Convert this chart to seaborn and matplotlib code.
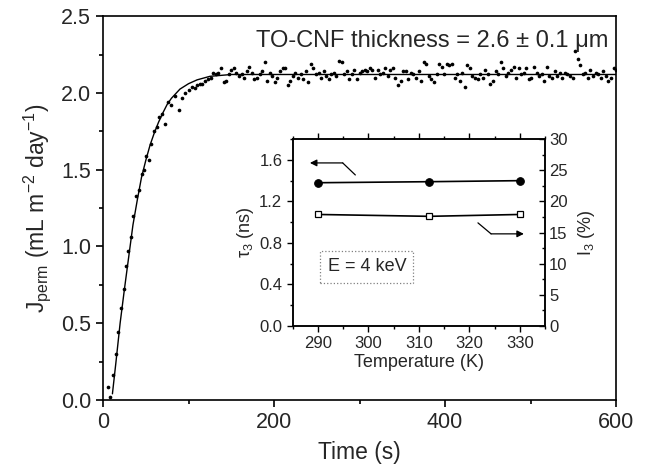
import matplotlib
matplotlib.use("Agg")
import matplotlib.pyplot as plt
import seaborn as sns
from matplotlib.ticker import MultipleLocator, FormatStrFormatter

sns.set_theme(style="ticks")
plt.rcParams["font.family"] = ["Liberation Sans", "DejaVu Sans"]
plt.rcParams["mathtext.default"] = "regular"

# measured permeation flux: rising part (s, mL m-2 day-1)
t_rise = [6, 8, 12, 15, 18, 21, 24.5, 27, 29.5, 32.5,
          35.5, 38, 41.5, 45, 48, 50.5, 54, 56, 59.5, 63,
          66, 68.5, 72, 76.5, 80, 84, 89, 92, 96, 100,
          104, 107, 110, 113, 116, 119]
J_rise = [0.085, 0.02, 0.16, 0.30, 0.44, 0.60, 0.72, 0.87, 0.97, 1.06,
          1.20, 1.33, 1.37, 1.47, 1.50, 1.59, 1.56, 1.67, 1.75, 1.78,
          1.84, 1.86, 1.80, 1.94, 1.92, 1.98, 1.89, 1.97, 2.00, 2.02,
          2.04, 2.03, 2.05, 2.06, 2.06, 2.08]

# plateau part
t_plat = [123, 126, 129, 132, 135, 138, 141, 144, 147, 150,
          153, 156, 159, 162, 165, 168, 171, 174, 177, 180,
          183, 186, 189, 192, 195, 198, 201, 204, 207, 210,
          213, 216, 219, 222, 225, 228, 231, 234, 237, 240,
          243, 246, 249, 252, 255, 258, 261, 264, 267, 270,
          273, 276, 279, 282, 285, 288, 291, 294, 297, 300,
          303, 306, 309, 312, 315, 318, 321, 324, 327, 330,
          333, 336, 339, 342, 345, 348, 351, 354, 357, 360,
          363, 366, 369, 372, 375, 378, 381, 384, 387, 390,
          393, 396, 399, 402, 405, 408, 411, 414, 417, 420,
          423, 426, 429, 432, 435, 438, 441, 444, 447, 450,
          453, 456, 459, 462, 465, 468, 471, 474, 477, 480,
          483, 486, 489, 492, 495, 498, 501, 504, 507, 510,
          513, 516, 519, 522, 525, 528, 531, 534, 537, 540,
          543, 546, 549, 552, 555, 558, 561, 564, 567, 570,
          573, 576, 579, 582, 585, 588, 591, 594, 597, 600]
J_plat = [2.09, 2.10, 2.13, 2.12, 2.13, 2.16, 2.07, 2.08, 2.12, 2.15,
          2.16, 2.13, 2.11, 2.12, 2.10, 2.14, 2.17, 2.13, 2.09, 2.10,
          2.12, 2.14, 2.20, 2.08, 2.13, 2.11, 2.07, 2.10, 2.14, 2.16,
          2.16, 2.05, 2.08, 2.11, 2.13, 2.10, 2.12, 2.09, 2.14, 2.07,
          2.19, 2.16, 2.12, 2.13, 2.10, 2.14, 2.11, 2.09, 2.12, 2.13,
          2.11, 2.21, 2.20, 2.12, 2.14, 2.09, 2.12, 2.15, 2.09, 2.13,
          2.14, 2.15, 2.14, 2.16, 2.15, 2.10, 2.15, 2.12, 2.13, 2.16,
          2.11, 2.15, 2.16, 2.10, 2.05, 2.08, 2.14, 2.14, 2.09, 2.13,
          2.12, 2.10, 2.14, 2.08, 2.20, 2.19, 2.11, 2.09, 2.07, 2.12,
          2.19, 2.17, 2.12, 2.19, 2.18, 2.19, 2.10, 2.12, 2.08, 2.13,
          2.04, 2.18, 2.16, 2.11, 2.10, 2.09, 2.12, 2.10, 2.15, 2.12,
          2.06, 2.08, 2.14, 2.12, 2.20, 2.16, 2.11, 2.13, 2.15, 2.17,
          2.10, 2.16, 2.12, 2.13, 2.16, 2.09, 2.10, 2.17, 2.13, 2.11,
          2.12, 2.08, 2.17, 2.11, 2.10, 2.14, 2.11, 2.13, 2.10, 2.13,
          2.12, 2.11, 2.10, 2.27, 2.22, 2.18, 2.12, 2.13, 2.10, 2.15,
          2.11, 2.13, 2.12, 2.10, 2.14, 2.11, 2.08, 2.10, 2.16, 2.15]

# fitted curve
t_fit = [11, 15, 20, 25, 30, 35, 40, 45, 50, 55, 60, 65, 70, 75, 80,
         90, 100, 110, 125, 150, 600]
J_fit = [0.04, 0.24, 0.50, 0.72, 0.93, 1.14, 1.30, 1.45, 1.56, 1.66, 1.74,
         1.81, 1.87, 1.925, 1.965, 2.025, 2.06, 2.085, 2.108, 2.12, 2.12]

# inset data
temps = [290, 312, 330]
tau3 = [1.38, 1.39, 1.40]
I3 = [17.9, 17.6, 17.9]

fig = plt.figure(figsize=(6.52, 4.75), dpi=100)
ax = fig.add_axes([0.158, 0.158, 0.787, 0.808])

sns.scatterplot(x=t_rise + t_plat, y=J_rise + J_plat, ax=ax, color="black",
                s=7, linewidth=0)
sns.lineplot(x=t_fit, y=J_fit, ax=ax, color="black", linewidth=1.0)

ax.set_xlim(0, 600)
ax.set_ylim(0, 2.5)
ax.xaxis.set_major_locator(MultipleLocator(200))
ax.xaxis.set_minor_locator(MultipleLocator(100))
ax.yaxis.set_major_locator(MultipleLocator(0.5))
ax.yaxis.set_minor_locator(MultipleLocator(0.25))
ax.yaxis.set_major_formatter(FormatStrFormatter("%.1f"))
ax.tick_params(which="both", direction="out", labelsize=15.5, width=1.2,
               top=False, right=False, color="black")
ax.tick_params(which="major", length=5)
ax.tick_params(which="minor", length=3)
for s in ax.spines.values():
    s.set_linewidth(1.2)
    s.set_color("black")
ax.set_xlabel("Time (s)", fontsize=16.5, labelpad=6)
ax.set_ylabel("J$_{perm}$ (mL m$^{-2}$ day$^{-1}$)", fontsize=16.5, labelpad=6)
ax.text(0.985, 0.935, "TO-CNF thickness = 2.6 ± 0.1 μm",
        transform=ax.transAxes, ha="right", va="center", fontsize=17)

# inset
ins = fig.add_axes([0.449, 0.314, 0.387, 0.393])
sns.lineplot(x=temps, y=tau3, ax=ins, color="black", linewidth=1.2,
             marker="o", markersize=5.5, markeredgecolor="black")
ins.set_xlim(285, 335)
ins.set_ylim(0, 1.8)
ins.xaxis.set_major_locator(MultipleLocator(10))
ins.xaxis.set_minor_locator(MultipleLocator(5))
ins.yaxis.set_major_locator(MultipleLocator(0.4))
ins.yaxis.set_minor_locator(MultipleLocator(0.2))
ins.tick_params(which="both", labelsize=12, direction="out", color="black",
                top=True, width=1)
ins.tick_params(which="major", length=4)
ins.tick_params(which="minor", length=2.5)
ins.set_xlabel("Temperature (K)", fontsize=13, labelpad=2)
ins.set_ylabel("τ$_3$ (ns)", fontsize=13, labelpad=2)

ins2 = ins.twinx()
sns.lineplot(x=temps, y=I3, ax=ins2, color="black", linewidth=1.2,
             marker="s", markersize=4, markerfacecolor="white",
             markeredgecolor="black", markeredgewidth=0.9)
ins2.set_ylim(0, 30)
ins2.yaxis.set_major_locator(MultipleLocator(5))
ins2.yaxis.set_minor_locator(MultipleLocator(2.5))
ins2.tick_params(which="both", labelsize=12, direction="in", color="black",
                 width=1, pad=3)
ins2.tick_params(which="major", length=4)
ins2.tick_params(which="minor", length=2.5)
ins2.set_ylabel("I$_3$ (%)", fontsize=13, labelpad=6)
for a in (ins, ins2):
    for s in a.spines.values():
        s.set_linewidth(1.1)
        s.set_color("black")

# pointer arrows
ins.plot([297.4, 294.9], [1.455, 1.571], color="black", lw=0.9)
ins.annotate("", xy=(288.4, 1.571), xytext=(294.9, 1.571),
             arrowprops=dict(arrowstyle="-|>", color="black", lw=0.9,
                             mutation_scale=10, shrinkA=0, shrinkB=0))
ins.plot([321.7, 324.3], [0.993, 0.887], color="black", lw=0.9)
ins.annotate("", xy=(330.8, 0.887), xytext=(324.3, 0.887),
             arrowprops=dict(arrowstyle="-|>", color="black", lw=0.9,
                             mutation_scale=10, shrinkA=0, shrinkB=0))

ins.text(0.294, 0.316, "E = 4 keV", transform=ins.transAxes, ha="center",
         va="center", fontsize=13,
         bbox=dict(boxstyle="square,pad=0.4", facecolor="white",
                   edgecolor="gray", linestyle=":", linewidth=0.9))

fig.savefig("out.png", dpi=100)
